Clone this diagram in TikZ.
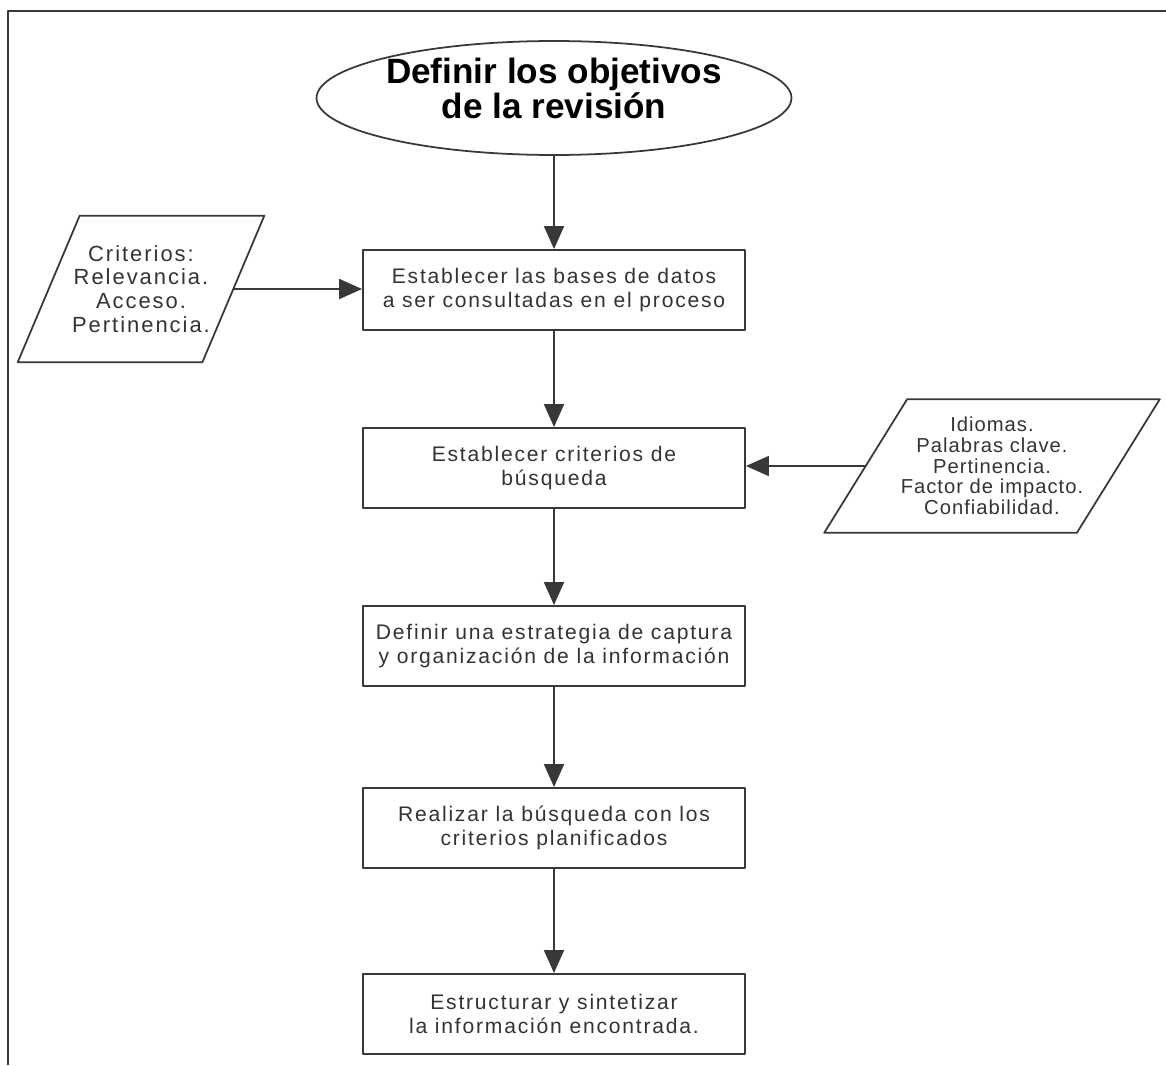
\documentclass[tikz,border=0pt]{standalone}
\usepackage{fontspec}
\setmainfont{Liberation Sans}
\newfontfamily\cuerpo[LetterSpace=8.5]{Liberation Sans}
\newfontfamily\entrada[LetterSpace=9]{Liberation Sans}
\newfontfamily\salida[LetterSpace=5]{Liberation Sans}
\usepackage{tikz}
\usetikzlibrary{shapes.geometric}
\usetikzlibrary{arrows.meta}
\definecolor{trazo}{HTML}{383838}
\definecolor{letra}{HTML}{333333}
\begin{document}
\begin{tikzpicture}[x=0.02cm,y=-0.02cm,line join=round,>={Triangle[length=0.46cm,width=0.4cm]},
  inicio/.style={ellipse,draw=trazo,line width=1pt,minimum width=9.4cm,minimum height=2.28cm,inner sep=0pt,align=center,text=black,font=\bfseries\fontsize{20}{16.8}\selectfont},
  paso/.style={rectangle,draw=trazo,line width=1.1pt,minimum width=7.64cm,minimum height=1.6cm,inner sep=0pt,align=center,text=letra,font=\cuerpo\fontsize{12}{13.6}\selectfont},
  datos/.style={rectangle,inner sep=0pt,align=center,text=letra},
  borde/.style={draw=trazo,line width=1pt},
  flecha/.style={->,draw=trazo,line width=1.1pt}]
\useasboundingbox (0,0) rectangle (1166,1065);
\draw[line width=1.6pt,color=trazo] (8,1065) -- (8,11) -- (1166,11);
\node[inicio] (obj) at (554,98) {Definir los objetivos\\de la revisión\\[-5.4pt]\mbox{}};
\node[paso] (bases) at (554,290) {Establecer las bases de datos\\a ser consultadas en el proceso};
\node[paso] (crit) at (554,468) {Establecer criterios de\\búsqueda};
\node[paso] (estr) at (554,646) {Definir una estrategia de captura\\y organización de la información};
\node[paso] (busq) at (554,828) {Realizar la búsqueda con los\\criterios planificados};
\node[paso] (sint) at (554,1014) {Estructurar y sintetizar\\la información encontrada.};
\node[datos,minimum width=3.68cm,minimum height=2.92cm,font=\entrada\fontsize{12.5}{13.6}\selectfont] (filtro) at (141,289) {Criterios:\\Relevancia.\\Acceso.\\Pertinencia.};
\draw[borde] ([xshift=0.62cm]filtro.north west) -- ([xshift=0.62cm]filtro.north east) -- ([xshift=-0.62cm]filtro.south east) -- ([xshift=-0.62cm]filtro.south west) -- cycle;
\node[datos,minimum width=5.04cm,minimum height=2.66cm,font=\salida\fontsize{11.5}{11.8}\selectfont] (param) at (992,466) {Idiomas.\\Palabras clave.\\Pertinencia.\\Factor de impacto.\\Confiabilidad.};
\draw[borde] ([xshift=0.83cm]param.north west) -- ([xshift=0.83cm]param.north east) -- ([xshift=-0.83cm]param.south east) -- ([xshift=-0.83cm]param.south west) -- cycle;
\draw[flecha] (obj) -- (bases);
\draw[flecha] (bases) -- (crit);
\draw[flecha] (crit) -- (estr);
\draw[flecha] (estr) -- (busq);
\draw[flecha] (busq) -- (sint);
\draw[flecha] (filtro.east) -- (filtro.east -| bases.west);
\draw[flecha] (param.west) -- (param.west -| crit.east);
\end{tikzpicture}
\end{document}
